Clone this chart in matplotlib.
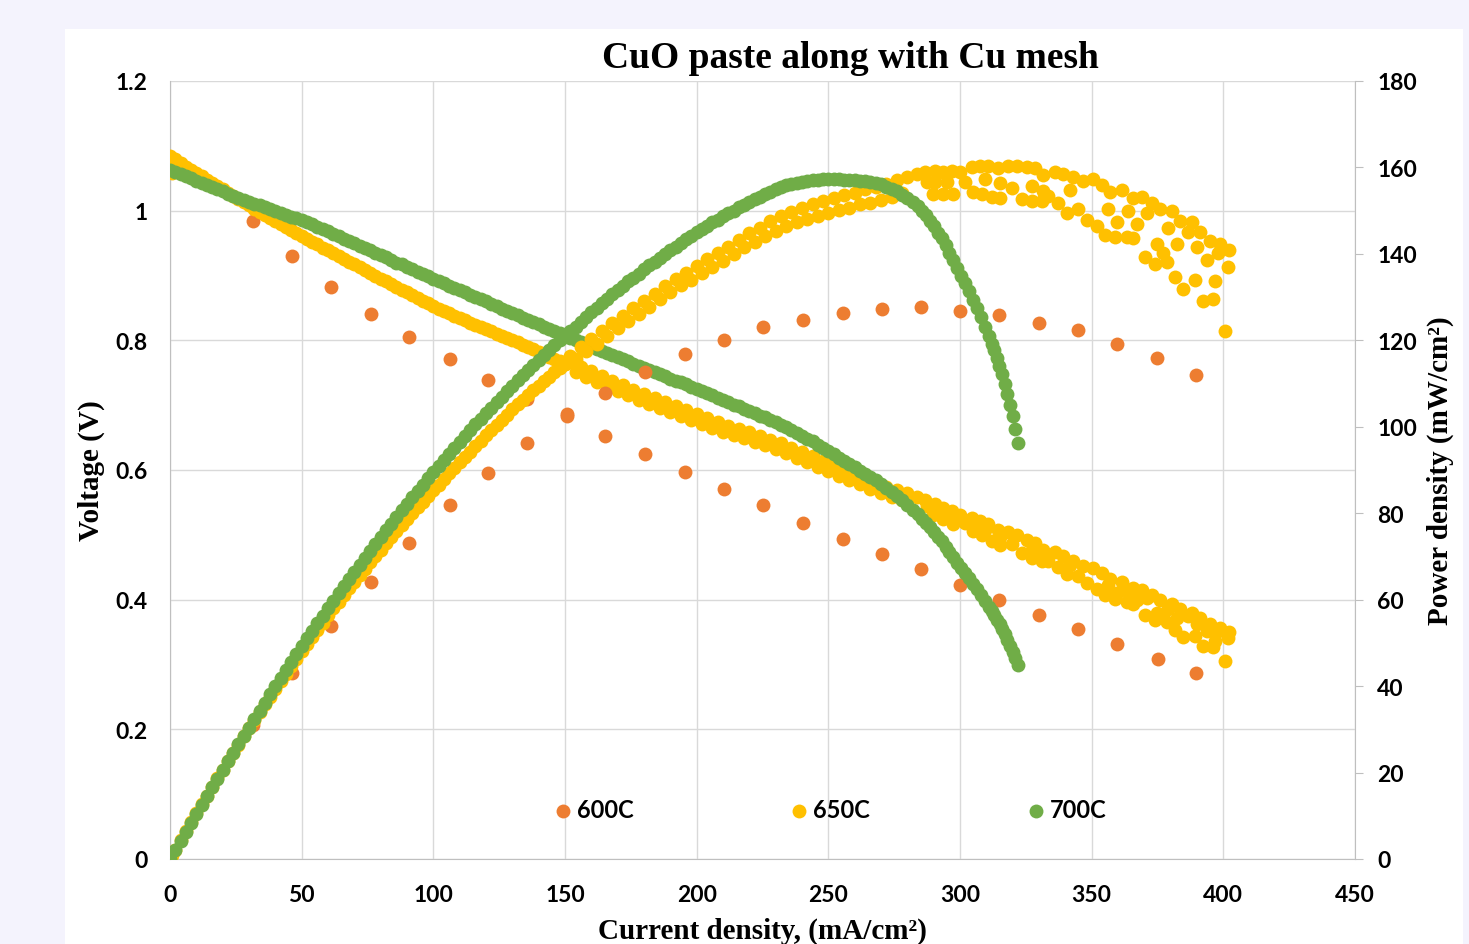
import numpy as np
import matplotlib
matplotlib.use('Agg')
import matplotlib.pyplot as plt
from matplotlib.patches import Rectangle

# ---- data: current density (mA/cm2) and voltage (V) ----
current_600 = [31.5, 46.3, 61.1, 76.3, 90.8, 106.3, 120.8, 135.6, 150.8, 165.2, 180.4,
               195.6, 210.5, 225.3, 240.4, 255.6, 270.4, 285.2, 300.0, 314.9, 330.1, 344.9,
               359.8, 375.0, 389.8]
voltage_600 = [0.984, 0.930, 0.882, 0.841, 0.805, 0.771, 0.739, 0.710, 0.683, 0.652,
               0.625, 0.597, 0.570, 0.546, 0.519, 0.494, 0.471, 0.448, 0.423, 0.400, 0.376, 0.355,
               0.331, 0.309, 0.287]

current_650 = [
    0, 0.4, 0.8, 2, 4, 6, 8, 10, 12, 14, 16, 18, 20, 22, 24, 26, 28, 30, 32, 34, 36, 38, 40,
    42, 44, 46, 48, 50, 52, 54, 56, 58, 60, 62, 64, 66, 68, 70, 72, 74, 76, 78, 80, 82, 84, 86,
    88, 90, 92, 94, 96, 98, 100, 102, 104, 106, 108, 110, 112, 114, 116, 118, 120, 122, 124,
    126, 128, 130, 132, 134, 136, 138, 140, 142, 144, 146, 148, 150,
    152, 154, 156, 158, 160, 162, 164, 166, 168, 170, 172, 174, 176, 178, 180, 182, 184, 186,
    188, 190, 192, 194, 196, 198, 200, 202, 204, 206, 208, 210, 212, 214, 216, 218, 220, 222,
    224, 226, 228, 230, 232, 234, 236, 238, 240, 242, 244, 246, 248, 250, 252, 254, 256, 258,
    260, 262, 264, 266, 268, 270, 272, 274, 276, 278,
    # upper band at high current
    279.7, 283.5, 286.7, 290.5, 293.7, 296.8, 300.0, 304.4, 307.6, 310.7, 314.5, 318.3, 321.5,
    325.3, 328.5, 331.6, 336.1, 339.2, 343.0, 346.8, 350.6, 353.8, 357.0, 361.4, 365.8, 369.0,
    372.8, 375.9, 380.4, 383.5, 388.0, 391.1, 394.9, 398.7, 402.3,
    # middle band
    287.3, 290.5, 294.9, 301.9, 309.5, 315.2, 319.6, 327.2, 331.6, 333.5, 337.3, 341.8, 340.5,
    344.9, 348.1, 351.9, 356.3, 355.0, 358.8, 363.3, 365.8, 359.5, 363.9, 367.1, 370.9, 379.1,
    382.3, 386.7, 389.9, 393.7, 398.1, 401.9,
    # lowest band
    289.9, 293.7, 297.5, 305.0, 308.2, 312.0, 315.2, 323.4, 327.2, 331.0,
    370.2, 374.0, 374.7, 377.2, 378.5, 381.6, 384.8, 389.2, 392.4, 396.2, 396.8, 400.6]
voltage_650 = [
    1.084, 1.071, 1.058, 1.079, 1.074, 1.068, 1.063, 1.058, 1.053, 1.048, 1.043, 1.038, 1.033,
    1.028, 1.023, 1.018, 1.013, 1.008, 1.003, 0.998, 0.994, 0.989, 0.984, 0.979, 0.975, 0.970,
    0.966, 0.961, 0.957, 0.952, 0.948, 0.943, 0.939, 0.935, 0.930, 0.926, 0.921, 0.917, 0.913,
    0.908, 0.904, 0.900, 0.895, 0.891, 0.887, 0.883, 0.878, 0.874, 0.870, 0.866, 0.861, 0.857,
    0.853, 0.849, 0.845, 0.842, 0.838, 0.834, 0.831, 0.827, 0.824, 0.820, 0.817, 0.814, 0.810,
    0.807, 0.803, 0.800, 0.797, 0.793, 0.790, 0.786, 0.782, 0.779, 0.775, 0.771, 0.768, 0.764,
    0.766, 0.751, 0.759, 0.744, 0.752, 0.736, 0.745, 0.729, 0.738, 0.722, 0.731, 0.715, 0.724,
    0.708, 0.717, 0.702, 0.711, 0.696, 0.705, 0.690, 0.699, 0.684, 0.692, 0.677, 0.686, 0.671,
    0.680, 0.665, 0.674, 0.659, 0.668, 0.654, 0.663, 0.649, 0.658, 0.643, 0.652, 0.638, 0.647,
    0.632, 0.641, 0.626, 0.634, 0.619, 0.628, 0.612, 0.621, 0.605, 0.614, 0.598, 0.607, 0.591,
    0.600, 0.584, 0.593, 0.578, 0.587, 0.571, 0.580, 0.565, 0.574, 0.559, 0.569, 0.554,
    0.564, 0.559, 0.554, 0.548, 0.541, 0.536, 0.530, 0.526, 0.521, 0.516, 0.508, 0.504, 0.499,
    0.492, 0.487, 0.477, 0.473, 0.467, 0.460, 0.452, 0.449, 0.441, 0.432, 0.428, 0.418, 0.415,
    0.407, 0.400, 0.394, 0.385, 0.380, 0.371, 0.362, 0.357, 0.350,
    0.545, 0.539, 0.531, 0.519, 0.508, 0.496, 0.486, 0.476, 0.466, 0.460, 0.450, 0.453, 0.439,
    0.436, 0.425, 0.416, 0.422, 0.407, 0.401, 0.396, 0.393, 0.410, 0.412, 0.400, 0.403, 0.385,
    0.372, 0.375, 0.363, 0.352, 0.352, 0.341,
    0.531, 0.524, 0.517, 0.506, 0.499, 0.491, 0.485, 0.472, 0.465, 0.460,
    0.376, 0.368, 0.380, 0.372, 0.365, 0.353, 0.343, 0.344, 0.329, 0.327, 0.337, 0.305]

current_700 = [
    0, 2, 4, 6, 8, 10, 12, 14, 16, 18, 20, 22, 24, 26, 28, 30, 32, 34, 36, 38, 40, 42, 44, 46,
    48, 50, 52, 54, 56, 58, 60, 62, 64, 66, 68, 70, 72, 74, 76, 78, 80, 82, 84, 86, 88, 90, 92,
    94, 96, 98, 100, 102, 104, 106, 108, 110, 112, 114, 116, 118, 120, 122, 124, 126, 128, 130,
    132, 134, 136, 138, 140, 142, 144, 146, 148, 150, 152, 154, 156, 158, 160, 162, 164, 166,
    168, 170, 172, 174, 176, 178, 180, 182, 184, 186, 188, 190, 192, 194, 196, 198, 200, 202,
    204, 206, 208, 210, 212, 214, 216, 218, 220, 222, 224, 226, 228, 230, 232, 234, 236, 238,
    240, 242, 244, 246, 248, 250, 252, 254, 256, 258, 260, 262, 264, 266, 268, 270, 272, 274,
    276, 278, 280, 282, 284, 285.5, 287, 288.5, 290, 291.5, 293, 294.5, 296, 297.5, 299, 300.5,
    302, 303.5, 305, 306.5, 308, 309.5, 311, 312, 313, 314, 315, 316, 317, 318, 319, 320, 321,
    322]
voltage_700 = [
    1.063, 1.060, 1.056, 1.053, 1.050, 1.046, 1.043, 1.040, 1.036, 1.033, 1.030, 1.026, 1.023,
    1.020, 1.016, 1.013, 1.010, 1.008, 1.005, 1.002, 0.999, 0.997, 0.994, 0.991, 0.989, 0.986,
    0.982, 0.979, 0.975, 0.971, 0.968, 0.964, 0.961, 0.957, 0.953, 0.950, 0.946, 0.942, 0.939,
    0.935, 0.931, 0.928, 0.924, 0.920, 0.917, 0.913, 0.910, 0.906, 0.902, 0.899, 0.895, 0.891,
    0.888, 0.884, 0.881, 0.877, 0.874, 0.870, 0.867, 0.863, 0.860, 0.856, 0.853, 0.849, 0.846,
    0.842, 0.839, 0.835, 0.832, 0.828, 0.825, 0.821, 0.818, 0.814, 0.811, 0.807, 0.804, 0.800,
    0.797, 0.794, 0.791, 0.787, 0.784, 0.781, 0.778, 0.774, 0.771, 0.768, 0.764, 0.761, 0.758,
    0.755, 0.751, 0.748, 0.745, 0.741, 0.738, 0.735, 0.732, 0.728, 0.725, 0.722, 0.718, 0.715,
    0.711, 0.708, 0.705, 0.701, 0.698, 0.694, 0.691, 0.688, 0.684, 0.681, 0.677, 0.674, 0.670,
    0.666, 0.662, 0.657, 0.653, 0.648, 0.644, 0.639, 0.634, 0.629, 0.624, 0.619, 0.614, 0.609,
    0.604, 0.599, 0.594, 0.589, 0.584, 0.578, 0.572, 0.566, 0.560, 0.553, 0.546, 0.539, 0.532,
    0.525, 0.519, 0.512, 0.505, 0.497, 0.490, 0.482, 0.474, 0.466, 0.457, 0.449, 0.441, 0.433,
    0.424, 0.416, 0.407, 0.398, 0.389, 0.382, 0.376, 0.369, 0.362, 0.355, 0.347, 0.338, 0.329,
    0.320, 0.310, 0.299]

labels = ["600C", "650C", "700C"]
colors = ["#ED7D31", "#FFC000", "#70AD47"]

tick_font = {"family": "Lato", "weight": "bold", "size": 16.5}
legend_font = {"family": "Lato", "weight": "bold", "size": 17}
serif_bold = {"family": "Liberation Serif", "weight": "bold"}

W, H = 1469, 945
fig = plt.figure(figsize=(W / 100, H / 100), dpi=100, facecolor="#F4F3FD")
fig.patches.append(Rectangle((65 / W, 0), (1463 - 65) / W, (H - 30) / H,
                             transform=fig.transFigure, facecolor="white",
                             edgecolor="none", zorder=-10))

ax = fig.add_axes([170 / W, 1 - 860 / H, 1185 / W, 778 / H])
ax2 = ax.twinx()

series = [(current_600, voltage_600), (current_650, voltage_650), (current_700, voltage_700)]
handles = []
for (cur, volt), col, lab in zip(series, colors, labels):
    cur = np.array(cur)
    volt = np.array(volt)
    power = cur * volt  # mW/cm2
    h = ax.scatter(cur, volt, s=100, color=col, linewidths=0, label=lab, zorder=3)
    ax2.scatter(cur, power, s=100, color=col, linewidths=0, zorder=3)
    handles.append(h)

# axes limits and ticks
ax.set_xlim(0, 450)
ax.set_ylim(0, 1.2)
ax2.set_ylim(0, 180)
ax.set_xticks(np.arange(0, 451, 50))
ax.set_yticks(np.arange(0, 1.21, 0.2))
ax.set_yticklabels(["0", "0.2", "0.4", "0.6", "0.8", "1", "1.2"])
ax2.set_yticks(np.arange(0, 181, 20))

ax.grid(True, color="#D9D9D9", linewidth=1)
ax.set_axisbelow(True)

for a in (ax, ax2):
    for s in a.spines.values():
        s.set_color("#BFBFBF")
    a.spines["top"].set_visible(False)
ax2.spines["left"].set_visible(False)
ax2.spines["bottom"].set_visible(False)
ax.spines["right"].set_visible(False)

ax.tick_params(axis="both", length=0)
ax.tick_params(axis="x", pad=18)
ax.tick_params(axis="y", pad=16)
ax2.tick_params(axis="y", length=6, color="#BFBFBF", pad=10)
for lab in ax.get_xticklabels() + ax.get_yticklabels() + ax2.get_yticklabels():
    lab.set_fontfamily(tick_font["family"])
    lab.set_fontweight(tick_font["weight"])
    lab.set_fontsize(tick_font["size"])

# labels and title
ax.set_xlabel("Current density, (mA/cm\u00b2)", fontsize=21, va="top", **serif_bold)
ax.xaxis.set_label_coords(0.5, -0.074)
ax.set_ylabel("Voltage (V)", fontsize=21, va="center", **serif_bold)
ax.yaxis.set_label_coords(-0.066, 0.5)
ax2.set_ylabel("Power density (mW/cm\u00b2)", fontsize=21, va="center", rotation=90, **serif_bold)
ax2.yaxis.set_label_coords(1.0717, 0.5)

fig.text(850 / W, 1 - 58 / H, "CuO paste along with Cu mesh", ha="center", va="center",
         fontsize=27, **serif_bold)

fig.legend(handles=handles, labels=labels, loc="center",
           bbox_to_anchor=(830 / W, 1 - 811 / H), ncol=3, frameon=False,
           prop=legend_font, handlelength=0.8, handletextpad=0.2, columnspacing=6.6,
           scatterpoints=1)

fig.savefig("out.png", dpi=100, facecolor=fig.get_facecolor())
plt.close()
